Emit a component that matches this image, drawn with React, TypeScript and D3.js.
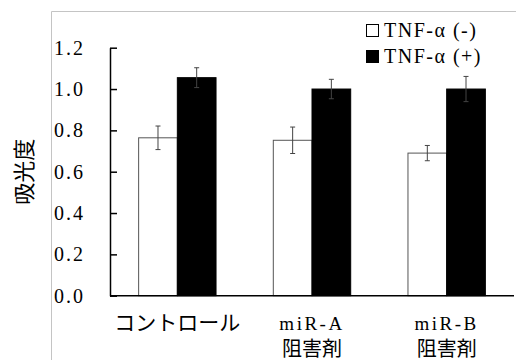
import React, { useRef, useEffect } from "react";
import * as d3 from "d3";

// data
const categories = ["コントロール", "miR-A\n阻害剤", "miR-B\n阻害剤"];
const seriesNames = ["TNF-α (-)", "TNF-α (+)"];
const tnfMinus = [0.764, 0.752, 0.690];
const tnfMinusErr = [0.057, 0.064, 0.037];
const tnfPlus = [1.055, 1.0, 1.0];
const tnfPlusErr = [0.048, 0.047, 0.061];
const yTicks = [0, 0.2, 0.4, 0.6, 0.8, 1.0, 1.2];
const yLabel = "吸光度";

const W = 516;
const H = 360;
const fills = ["#ffffff", "#000000"];
const latinFont = "Liberation Serif, DejaVu Serif, Times New Roman, serif";
const cjkFont = "Noto Sans CJK JP, sans-serif";

const App = () => {
  const svgRef = useRef<SVGSVGElement>(null);

  useEffect(() => {
    const svg = d3.select(svgRef.current);
    svg.selectAll("*").remove();

    const margin = { top: 47.7, right: 2, bottom: 64.3, left: 110 };

    // light grey frame around the plot area (runs off the right and bottom)
    svg
      .append("path")
      .attr("d", `M51.5,${H} V11.5 H${W}`)
      .attr("fill", "none")
      .attr("stroke", "#c4c4c4")
      .attr("stroke-width", 1);

    const y = d3
      .scaleLinear()
      .domain([0, 1.2])
      .range([H - margin.bottom, margin.top]);

    const x0 = d3
      .scaleBand()
      .domain(categories)
      .range([margin.left, W - margin.right])
      .paddingInner(0)
      .paddingOuter(0);

    const x1 = d3
      .scaleBand()
      .domain(seriesNames)
      .range([0, x0.bandwidth()])
      .paddingInner(0)
      .paddingOuter(0.74);

    const rows = categories.map((c, i) => ({
      cat: c,
      vals: [
        { s: seriesNames[0], v: tnfMinus[i], e: tnfMinusErr[i], k: 0 },
        { s: seriesNames[1], v: tnfPlus[i], e: tnfPlusErr[i], k: 1 },
      ],
    }));

    // bars
    const groups = svg
      .selectAll(".grp")
      .data(rows)
      .enter()
      .append("g")
      .attr("transform", (d) => `translate(${x0(d.cat)},0)`);

    groups
      .selectAll("rect")
      .data((d) => d.vals)
      .enter()
      .append("rect")
      .attr("x", (d) => x1(d.s))
      .attr("y", (d) => y(d.v))
      .attr("width", x1.bandwidth())
      .attr("height", (d) => y(0) - y(d.v))
      .attr("fill", (d) => fills[d.k])
      .attr("stroke", (d) => (d.k === 0 ? "#555" : "#000"))
      .attr("stroke-width", 1);

    // error bars
    const cap = 2.5;
    const eb = groups
      .selectAll(".err")
      .data((d) => d.vals)
      .enter()
      .append("g")
      .attr("stroke", "#444")
      .attr("stroke-width", 1);
    const cx = (d) => x1(d.s) + x1.bandwidth() / 2;
    eb.append("line")
      .attr("x1", cx)
      .attr("x2", cx)
      .attr("y1", (d) => y(d.v + d.e))
      .attr("y2", (d) => y(d.v - d.e));
    eb.append("line")
      .attr("x1", (d) => cx(d) - cap)
      .attr("x2", (d) => cx(d) + cap)
      .attr("y1", (d) => y(d.v + d.e))
      .attr("y2", (d) => y(d.v + d.e));
    eb.append("line")
      .attr("x1", (d) => cx(d) - cap)
      .attr("x2", (d) => cx(d) + cap)
      .attr("y1", (d) => y(d.v - d.e))
      .attr("y2", (d) => y(d.v - d.e));

    // y axis, ticks pointing inward
    const yAxis = svg
      .append("g")
      .attr("transform", `translate(${margin.left},0)`)
      .call(
        d3
          .axisLeft(y)
          .tickValues(yTicks)
          .tickSizeInner(-7)
          .tickSizeOuter(0)
          .tickPadding(25)
          .tickFormat(d3.format(".1f"))
      );
    yAxis.attr("font-family", latinFont).attr("font-size", 20);
    yAxis.select(".domain").attr("stroke", "#000").attr("stroke-width", 1.5);
    yAxis.selectAll(".tick line").attr("stroke", "#000").attr("stroke-width", 1.5);
    yAxis
      .selectAll(".tick text")
      .attr("fill", "#000")
      .attr("letter-spacing", 2);

    // x axis line
    svg
      .append("line")
      .attr("x1", margin.left)
      .attr("x2", W - margin.right)
      .attr("y1", y(0))
      .attr("y2", y(0))
      .attr("stroke", "#000")
      .attr("stroke-width", 1.5);

    // category labels
    const isCjk = (s) => /[\u3000-\u9fff]/.test(s);
    categories.forEach((c) => {
      const lines = c.split("\n");
      const t = svg
        .append("text")
        .attr("text-anchor", "middle")
        .attr("fill", "#000");
      lines.forEach((ln, i) => {
        t.append("tspan")
          .attr("x", x0(c) + x0.bandwidth() / 2)
          .attr("y", y(0) + 34 + i * 26)
          .attr("font-family", isCjk(ln) ? cjkFont : latinFont)
          .attr("font-size", isCjk(ln) ? (i > 0 ? 20 : 21) : 19)
          .attr("letter-spacing", isCjk(ln) ? 0 : 2.5)
          .text(ln);
      });
    });

    // y label
    svg
      .append("text")
      .attr("transform", `translate(32,${(y(0) + y(1.2)) / 2}) rotate(-90)`)
      .attr("text-anchor", "middle")
      .attr("font-family", cjkFont)
      .attr("font-size", 22)
      .attr("fill", "#000")
      .text(yLabel);

    // legend
    const legend = svg
      .selectAll(".legend")
      .data(seriesNames)
      .enter()
      .append("g")
      .attr("transform", (d, i) => `translate(366,${24 + i * 26})`);
    legend
      .append("rect")
      .attr("x", 0.5)
      .attr("y", 0.5)
      .attr("width", 12)
      .attr("height", 12)
      .attr("fill", (d, i) => fills[i])
      .attr("stroke", "#000")
      .attr("stroke-width", 1);
    legend
      .append("text")
      .attr("x", 18)
      .attr("y", 13)
      .attr("font-family", latinFont)
      .attr("font-size", 20)
      .attr("letter-spacing", 1.5)
      .attr("fill", "#000")
      .text((d) => d);
  }, []);

  return (
    <svg
      ref={svgRef}
      width={W}
      height={H}
      style={{ position: "absolute", left: 0, top: 0, background: "#fff" }}
    />
  );
};

export default App;
